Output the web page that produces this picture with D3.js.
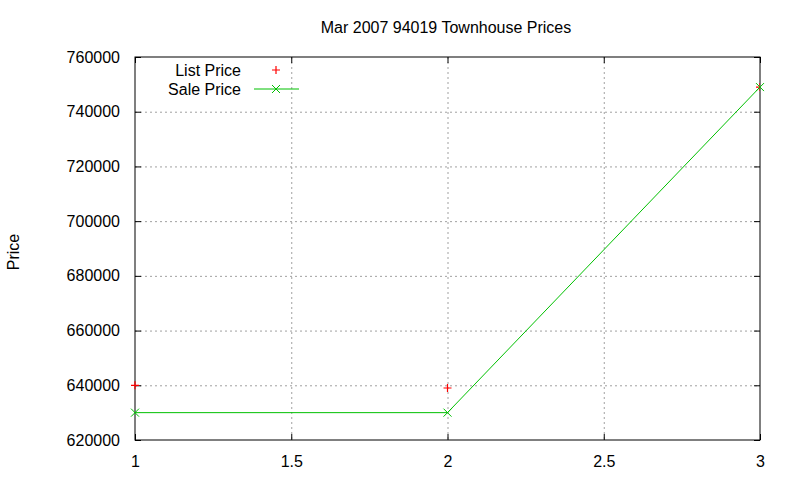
<!DOCTYPE html>
<html>
<head>
<meta charset="utf-8">
<script src="https://d3js.org/d3.v7.min.js"></script>
<style>
  body { margin: 0; background: #fff; }
  svg text { font-family: "Liberation Sans", Arial, sans-serif; font-size: 16px; fill: #000; }
</style>
</head>
<body>
<div id="chart"></div>
<script>
// chart data
const positions = [1, 2, 3];
const listPrice = [640000, 639000, 749000];
const salePrice = [630000, 630000, 749000];
const xTicks = [1, 1.5, 2, 2.5, 3];
const yTicks = [620000, 640000, 660000, 680000, 700000, 720000, 740000, 760000];

const width = 800, height = 480;
const margin = { left: 135, right: 40, top: 57, bottom: 40 };

const svg = d3.select("#chart").append("svg")
  .attr("width", width)
  .attr("height", height);

const x = d3.scaleLinear().domain([1, 3]).range([margin.left, width - margin.right]);
const y = d3.scaleLinear().domain([620000, 760000]).range([height - margin.bottom, margin.top]);

// grid
svg.append("g").selectAll("line.gx")
  .data(xTicks.slice(1, -1))
  .enter().append("line")
  .attr("x1", d => x(d) + 0.5).attr("x2", d => x(d) + 0.5)
  .attr("y1", y(760000)).attr("y2", y(620000))
  .attr("stroke", "#a0a0a0").attr("stroke-dasharray", "2,3");

svg.append("g").selectAll("line.gy")
  .data(yTicks.slice(1, -1))
  .enter().append("line")
  .attr("x1", x(1)).attr("x2", x(3))
  .attr("y1", d => y(d) + 0.5).attr("y2", d => y(d) + 0.5)
  .attr("stroke", "#a0a0a0").attr("stroke-dasharray", "2,3");

// axes (ticks drawn inward, mirrored)
const xAxis = d3.axisBottom(x).tickValues(xTicks).tickSizeInner(-6).tickSizeOuter(0).tickPadding(16)
  .tickFormat(d3.format(""));
const yAxis = d3.axisLeft(y).tickValues(yTicks).tickSizeInner(-6).tickSizeOuter(0).tickPadding(15)
  .tickFormat(d3.format("d"));

const gx = svg.append("g").attr("transform", `translate(0,${y(620000)})`).call(xAxis);
const gy = svg.append("g").attr("transform", `translate(${x(1)},0)`).call(yAxis);
const gx2 = svg.append("g").attr("transform", `translate(0,${y(760000)})`)
  .call(d3.axisTop(x).tickValues(xTicks).tickSizeInner(-6).tickSizeOuter(0).tickFormat(""));
const gy2 = svg.append("g").attr("transform", `translate(${x(3)},0)`)
  .call(d3.axisRight(y).tickValues(yTicks).tickSizeInner(-6).tickSizeOuter(0).tickFormat(""));

[gx, gy, gx2, gy2].forEach(g => {
  g.select(".domain").remove();
  g.selectAll("line").attr("stroke", "#000");
  g.selectAll("text").style("font-family", "Liberation Sans, Arial, sans-serif").style("font-size", "16px").attr("fill", "#000");
});

// frame
svg.append("rect")
  .attr("x", x(1)).attr("y", y(760000))
  .attr("width", x(3) - x(1)).attr("height", y(620000) - y(760000))
  .attr("fill", "none").attr("stroke", "#000");

// titles
svg.append("text").attr("x", 446).attr("y", 33).attr("text-anchor", "middle")
  .text("Mar 2007 94019 Townhouse Prices");
svg.append("text").attr("transform", "translate(19,252) rotate(-90)").attr("text-anchor", "middle")
  .text("Price");

svg.append("clipPath").attr("id", "plotclip").append("rect")
  .attr("x", x(1) - 4).attr("y", y(760000) - 4)
  .attr("width", x(3) - x(1) + 4).attr("height", y(620000) - y(760000) + 8);

const plot = svg.append("g");

function plus(g, cx, cy, color) {
  g.append("path").attr("d", `M${cx - 4},${cy}H${cx + 4}M${cx},${cy - 4}V${cy + 4}`)
    .attr("stroke", color).attr("stroke-width", 1.2);
}
function cross(g, cx, cy, color) {
  g.append("path").attr("d", `M${cx - 4},${cy - 4}L${cx + 4},${cy + 4}M${cx - 4},${cy + 4}L${cx + 4},${cy - 4}`)
    .attr("stroke", color).attr("stroke-width", 1);
}

// list price points
const listG = plot.append("g").attr("clip-path", "url(#plotclip)");
positions.forEach((p, i) => plus(listG, x(p), y(listPrice[i]), "#ff0000"));

// sale price line + points
const line = d3.line().x((d, i) => x(positions[i])).y(d => y(d));
plot.append("path").datum(salePrice).attr("d", line)
  .attr("fill", "none").attr("stroke", "#00c000").attr("stroke-width", 1);
positions.forEach((p, i) => cross(plot, x(p), y(salePrice[i]), "#00c000"));

// legend
const lg = svg.append("g");
lg.append("text").attr("x", 241).attr("y", 76).attr("text-anchor", "end").text("List Price");
lg.append("text").attr("x", 241).attr("y", 95).attr("text-anchor", "end").text("Sale Price");
plus(lg, 276, 70, "#ff0000");
lg.append("line").attr("x1", 254).attr("x2", 299).attr("y1", 89).attr("y2", 89)
  .attr("stroke", "#00c000").attr("stroke-width", 1);
cross(lg, 276, 89, "#00c000");
</script>
</body>
</html>
